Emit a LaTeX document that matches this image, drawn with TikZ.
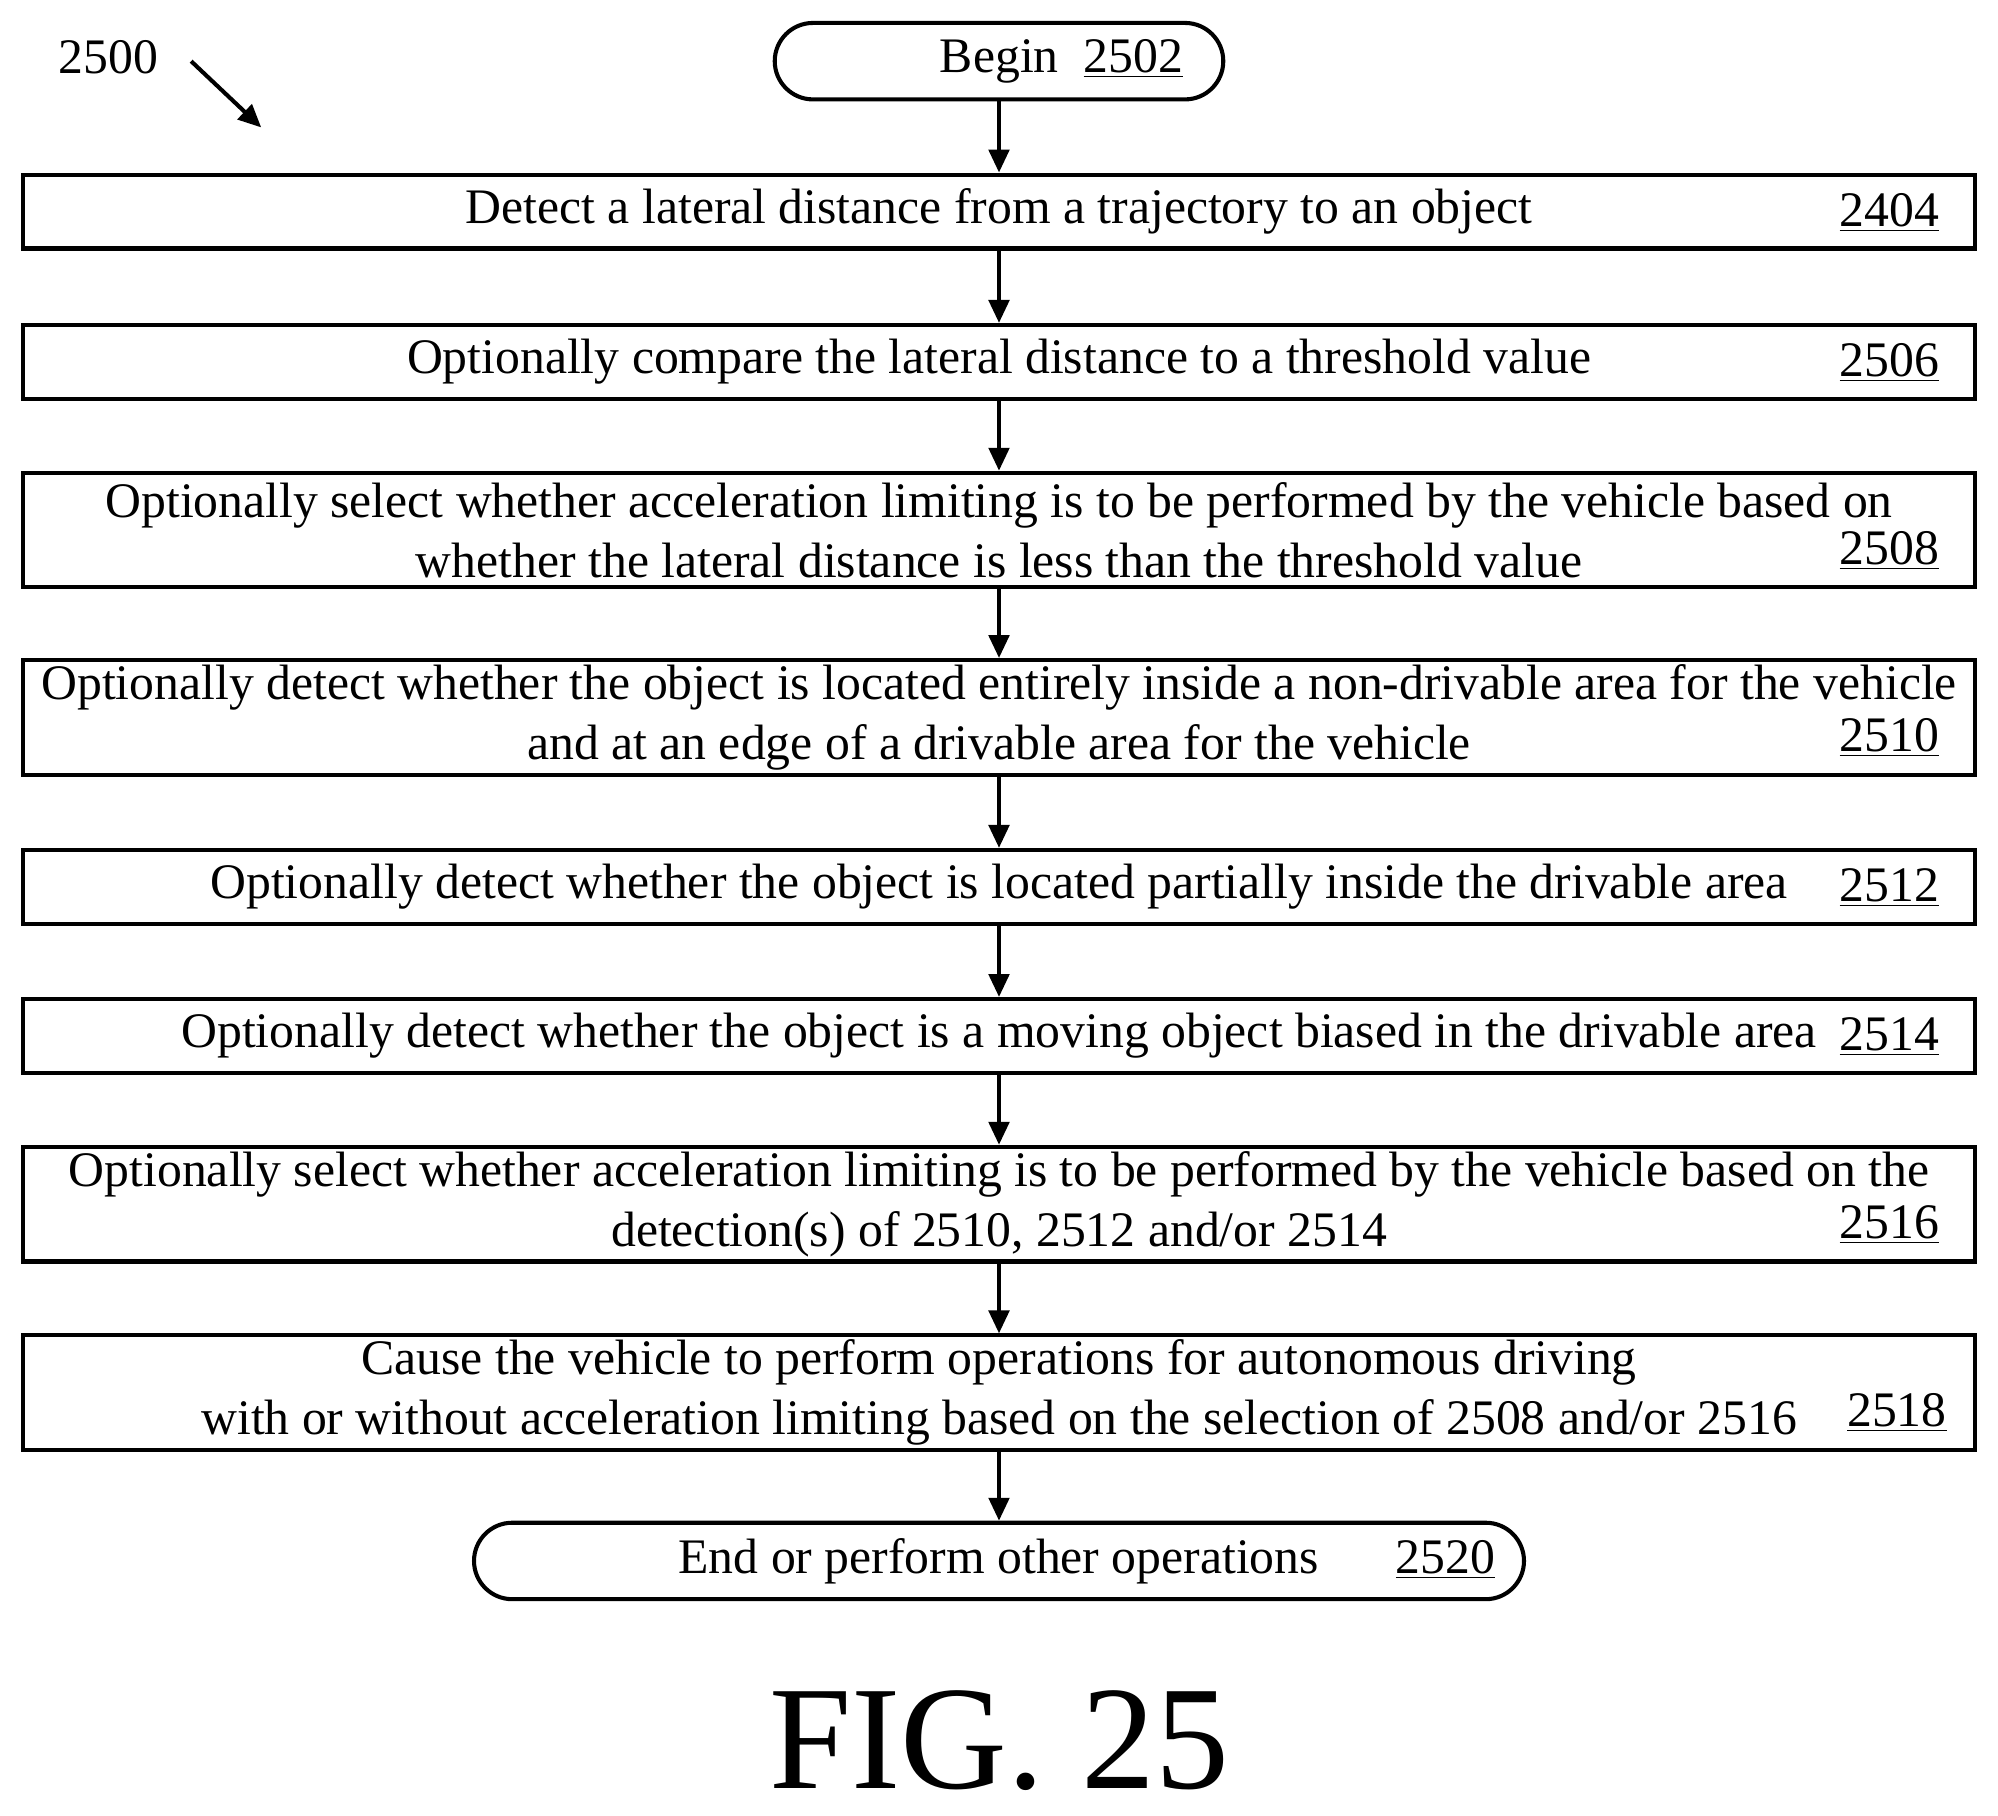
\documentclass[tikz,border=0pt]{standalone}
\usepackage{fontspec}
\setmainfont{Liberation Serif}
\usetikzlibrary{arrows.meta}
\begin{document}
\begin{tikzpicture}[x=0.5pt,y=-0.5pt,
  box/.style={draw,line width=1.6pt,minimum width=766pt,inner sep=0pt,font=\fontsize{19.5}{23.5}\selectfont,align=center},
  term/.style={draw,line width=1.6pt,rounded corners=15pt,inner sep=0pt,font=\fontsize{19.5}{22}\selectfont},
  num/.style={anchor=east,inner sep=0pt,font=\fontsize{19.5}{22}\selectfont},
  arr/.style={line width=1.6pt,-{Triangle[length=9pt,width=8pt]}}]
\useasboundingbox (0,0) rectangle (1568,1425);
\node[term,minimum width=176pt,minimum height=30pt] (b) at (784,48) {\hspace{49pt}\raisebox{-1.5pt}{Begin\ \ \underline{2502}}};
\node[box,minimum height=29pt] (n1) at (784,166) {\raisebox{-1.5pt}{Detect a lateral distance from a trajectory to an object}};
\node[box,minimum height=29pt] (n2) at (784,284) {\raisebox{-1.5pt}{Optionally compare the lateral distance to a threshold value}};
\node[box,minimum height=45pt] (n3) at (784,416) {Optionally select whether acceleration limiting is to be performed by the vehicle based on\\whether the lateral distance is less than the threshold value};
\node[box,minimum height=45pt] (n4) at (784,563) {Optionally detect whether the object is located entirely inside a non-drivable area for the vehicle\\and at an edge of a drivable area for the vehicle};
\node[box,minimum height=29pt] (n5) at (784,696) {\raisebox{-1.5pt}{Optionally detect whether the object is located partially inside the drivable area}};
\node[box,minimum height=29pt] (n6) at (784,813) {\raisebox{-1.5pt}{Optionally detect whether the object is a moving object biased in the drivable area}};
\node[box,minimum height=45pt] (n7) at (784,945) {Optionally select whether acceleration limiting is to be performed by the vehicle based on the\\detection(s) of 2510, 2512 and/or 2514};
\node[box,minimum height=45pt] (n8) at (784,1093) {Cause the vehicle to perform operations for autonomous driving\\with or without acceleration limiting based on the selection of 2508 and/or 2516};
\node[term,minimum width=412pt,minimum height=30pt] (e) at (784,1225) {\hspace{69pt}\raisebox{-1.5pt}{End or perform other operations\hspace{1.55em}\underline{2520}}};
\node[num] (m1) at (1522,167) {\underline{2404}};
\node[num] (m2) at (1522,285) {\underline{2506}};
\node[num] (m3) at (1522,432) {\underline{2508}};
\node[num] (m4) at (1522,579) {\underline{2510}};
\node[num] (m5) at (1522,697) {\underline{2512}};
\node[num] (m6) at (1522,814) {\underline{2514}};
\node[num] (m7) at (1522,961) {\underline{2516}};
\node[num] (m8) at (1528,1109) {\underline{2518}};
\draw[arr] (b) -- (n1);
\draw[arr] (n1) -- (n2);
\draw[arr] (n2) -- (n3);
\draw[arr] (n3) -- (n4);
\draw[arr] (n4) -- (n5);
\draw[arr] (n5) -- (n6);
\draw[arr] (n6) -- (n7);
\draw[arr] (n7) -- (n8);
\draw[arr] (n8) -- (e);
\node[font=\fontsize{19.5}{22}\selectfont] (lab) at (85,45) {2500};
\coordinate (a1) at (150,48);
\coordinate (a2) at (205,100);
\draw[arr] (a1) -- (a2);
\node[font=\fontsize{58}{64}\selectfont] (fig) at (784,1366) {FIG. 25};
\end{tikzpicture}
\end{document}
